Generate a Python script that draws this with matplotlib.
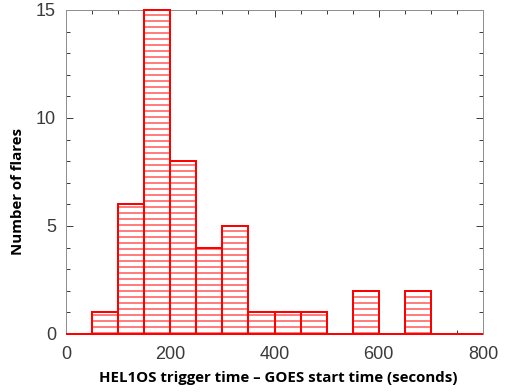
#!/usr/bin/env python
# Histogram of HEL1OS trigger time minus GOES start time.

import numpy as np
import matplotlib

matplotlib.use("Agg")
from matplotlib import pyplot as plt  # noqa: E402
from matplotlib.ticker import MultipleLocator  # noqa: E402

# bin left edges (seconds) and flare counts per 50 s bin
bin_edges = [0, 50, 100, 150, 200, 250, 300, 350, 400, 450, 500, 550, 600, 650, 700, 750]
counts = [0, 1, 6, 15, 8, 4, 5, 1, 1, 1, 0, 2, 0, 2, 0, 0]
bin_width = 50

x_label = "HEL1OS trigger time \u2013 GOES start time (seconds)"
y_label = "Number of flares"


def main():
    """Main body of the script."""
    plt.rcParams["hatch.linewidth"] = 1.0

    dpi = 72
    fig = plt.figure(figsize=(506 / dpi, 392 / dpi), dpi=dpi)
    ax = fig.add_axes([66 / 506, 58 / 392, 417 / 506, 324 / 392])

    ax.bar(
        np.array(bin_edges),
        counts,
        width=bin_width,
        align="edge",
        facecolor="none",
        edgecolor="red",
        hatch="--",
        linewidth=2,
        clip_on=False,
        zorder=3,
    )

    ax.set_xlim(0, 800)
    ax.set_ylim(0, 15)
    ax.xaxis.set_major_locator(MultipleLocator(200))
    ax.xaxis.set_minor_locator(MultipleLocator(50))
    ax.yaxis.set_major_locator(MultipleLocator(5))
    ax.yaxis.set_minor_locator(MultipleLocator(1))

    for side in ["left", "right", "top", "bottom"]:
        ax.spines[side].set_color("#909090")
        ax.spines[side].set_linewidth(1)

    ax.tick_params(
        which="both", direction="in", top=True, right=True,
        color="#404040", labelcolor="#3a3a3a", labelsize=18,
    )
    ax.tick_params(which="major", length=7, width=1)
    ax.tick_params(which="minor", length=4, width=1)
    ax.tick_params(axis="y", which="major", pad=10)
    ax.tick_params(axis="x", which="major", pad=12)
    for lbl in ax.get_xticklabels() + ax.get_yticklabels():
        lbl.set_family("Liberation Sans")

    fig.text(278 / 506, 1 - 378 / 392, x_label, ha="center", va="center",
             fontsize=15, fontweight="bold", family="Open Sans")
    fig.text(18 / 506, 1 - 191 / 392, y_label, ha="center", va="center",
             rotation=90, fontsize=15, fontweight="bold", family="Open Sans")

    plt.savefig("out.png", dpi=dpi)


if __name__ == "__main__":
    main()
